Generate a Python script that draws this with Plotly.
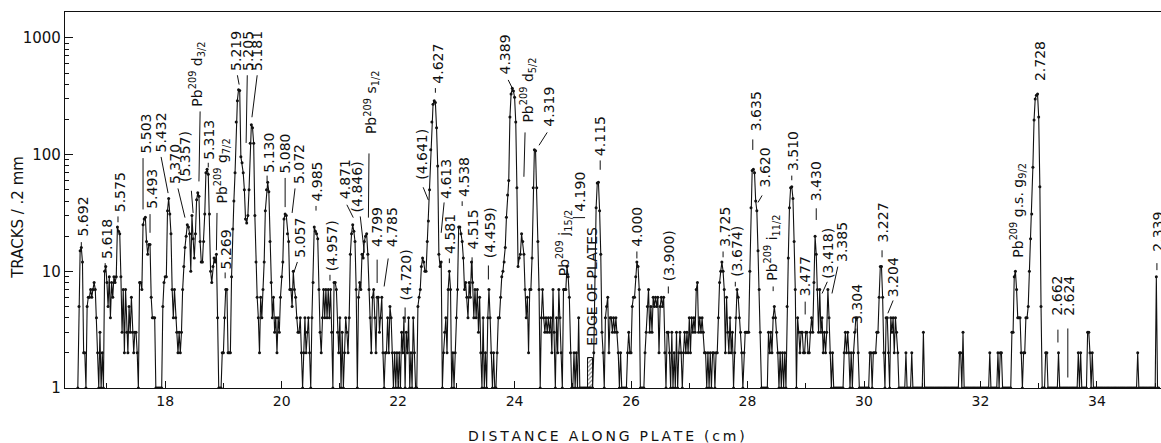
import plotly.graph_objects as go

# ---------------- data: tracks per 0.2 mm bin (bin width 0.02 cm) ----------------
BIN = 0.02
seg_16 = [1, 5, 15, 16, 12, 2, 2, 1, 5, 6, 6, 7, 6, 7, 8, 7, 4, 2, 1, 3, 1, 2, 1, 10, 11]
seg_17 = [8, 5, 9, 4, 8, 6, 9, 8, 9, 24, 22, 21, 9, 3, 7, 2, 7, 3, 2, 5,
          3, 6, 3, 2, 3, 3, 2, 1, 8, 8, 7, 25, 28, 29, 18, 14, 17, 17, 6, 4,
          4, 4, 1, 1, 1, 1, 1, 1, 5, 8]
seg_18 = [9, 9, 33, 42, 31, 21, 7, 4, 7, 4, 3, 2, 3, 2, 3, 7, 11, 16, 20, 25,
          24, 21, 10, 30, 19, 13, 21, 41, 47, 44, 18, 12, 12, 18, 31, 70, 75, 68, 31, 10,
          8, 11, 13, 12, 14, 4, 1, 1, 1, 2]
seg_19 = [2, 4, 7, 7, 2, 2, 2, 9, 23, 40, 70, 190, 290, 360, 355, 96, 85, 70, 50, 28,
          26, 30, 50, 125, 180, 170, 125, 30, 12, 6, 4, 2, 6, 4, 7, 12, 33, 50, 58, 48,
          18, 8, 4, 6, 3, 4, 2, 4, 3, 6]
seg_20 = [9, 12, 28, 31, 30, 21, 18, 7, 7, 5, 10, 7, 6, 4, 3, 3, 4, 2, 1, 2,
          4, 2, 3, 4, 2, 1, 4, 8, 24, 22, 21, 19, 7, 3, 2, 4, 7, 4, 7, 4,
          7, 4, 7, 3, 1, 8, 8, 7, 3, 2]
seg_21 = [4, 1, 3, 1, 2, 4, 3, 2, 4, 14, 21, 25, 22, 18, 7, 1, 6, 8, 7, 14,
          13, 18, 20, 21, 14, 7, 4, 2, 6, 7, 4, 2, 6, 6, 3, 4, 6, 2, 1, 2,
          2, 4, 2, 5, 4, 2, 1, 2, 1, 2]
seg_22 = [1, 2, 1, 3, 2, 4, 1, 3, 2, 4, 1, 2, 1, 4, 2, 1, 1, 5, 6, 7,
          11, 13, 12, 10, 10, 18, 27, 50, 110, 190, 270, 290, 280, 170, 80, 14, 11, 12, 1, 2,
          3, 4, 2, 7, 10, 7, 1, 2, 1, 2]
seg_23 = [4, 7, 24, 24, 21, 18, 13, 7, 8, 6, 4, 8, 6, 12, 8, 4, 7, 4, 7, 3,
          6, 2, 1, 4, 1, 2, 1, 4, 7, 4, 2, 1, 2, 1, 1, 2, 4, 4, 6, 9,
          10, 12, 16, 29, 45, 60, 210, 330, 370, 350]
seg_24 = [310, 190, 52, 11, 13, 14, 21, 18, 14, 7, 4, 6, 2, 7, 7, 13, 52, 110, 108, 52,
          18, 7, 1, 4, 7, 4, 3, 4, 3, 4, 3, 4, 2, 7, 3, 1, 4, 2, 7, 4,
          2, 1, 7, 7, 7, 11, 9, 6, 2, 1]
seg_25 = [1, 2, 1, 2, 1, 4, 1, 1, 1, 1, 1, 1, 1, 1, 1, 1, 1, 1, 2, 9,
          35, 57, 58, 33, 14, 3, 2, 1, 4, 5, 6, 2, 4, 4, 3, 4, 3, 4, 3, 2,
          1, 2, 1, 1, 1, 1, 1, 2, 3, 2]
seg_26 = [2, 5, 6, 6, 9, 12, 11, 7, 1, 1, 1, 1, 2, 3, 5, 7, 3, 5, 3, 6,
          5, 6, 5, 6, 2, 5, 6, 5, 6, 2, 1, 3, 3, 2, 1, 3, 1, 2, 1, 3,
          1, 2, 3, 2, 1, 2, 3, 2, 3, 2]
seg_27 = [4, 2, 4, 3, 4, 3, 7, 8, 3, 4, 3, 4, 3, 2, 2, 1, 2, 1, 2, 1,
          2, 2, 1, 2, 2, 4, 8, 10, 12, 10, 7, 2, 6, 3, 2, 4, 2, 3, 1, 2,
          4, 7, 6, 4, 3, 2, 1, 2, 3, 3]
seg_28 = [3, 3, 10, 35, 73, 75, 70, 40, 33, 15, 7, 3, 1, 1, 1, 1, 1, 1, 3, 2,
          3, 2, 4, 5, 4, 3, 2, 1, 2, 1, 2, 1, 2, 1, 5, 13, 35, 52, 53, 42,
          18, 7, 1, 4, 3, 2, 3, 3, 2, 2]
seg_29 = [3, 3, 2, 2, 3, 4, 3, 8, 20, 14, 7, 3, 7, 3, 4, 2, 3, 2, 3, 7,
          4, 2, 1, 2, 1, 1, 1, 1, 1, 1, 1, 1, 1, 2, 3, 2, 3, 2, 1, 2,
          1, 2, 3, 4, 4, 2, 1, 1, 1, 1]
seg_30 = [1, 1, 1, 1, 1, 2, 2, 1, 2, 2, 2, 3, 3, 6, 11, 11, 6, 2, 1, 4,
          4, 2, 1, 4, 3, 4, 2, 4, 3, 2, 1, 1, 1, 1, 1, 1, 2, 1, 1, 1,
          1, 2, 1, 1, 1, 1, 1, 1, 1, 1]
seg_31 = [1, 3, 1, 1, 1, 1, 1, 1, 1, 1, 1, 1, 1, 1, 1, 1, 1, 1, 1, 1,
          1, 1, 1, 1, 1, 1, 1, 1, 1, 1, 1, 1, 2, 2, 1, 3, 1, 1, 1, 1,
          1, 1, 1, 1, 1, 1, 1, 1, 1, 1]
seg_32 = [1, 1, 1, 1, 1, 1, 1, 1, 2, 1, 1, 1, 1, 1, 1, 2, 1, 2, 2, 1,
          1, 1, 1, 1, 1, 1, 1, 3, 3, 9, 10, 7, 4, 4, 4, 2, 1, 2, 2, 4,
          4, 5, 10, 19, 31, 78, 198, 300, 323, 330]
seg_33 = [210, 53, 5, 1, 1, 1, 2, 2, 1, 1, 1, 1, 1, 1, 1, 1, 1, 2, 1, 1,
          1, 1, 1, 1, 1, 1, 1, 1, 1, 1, 1, 1, 1, 1, 2, 1, 2, 1, 1, 1,
          1, 1, 3, 3, 2, 1, 2, 1, 1, 1]
seg_34 = [1, 1, 1, 1, 1, 1, 1, 1, 1, 1, 1, 1, 1, 1, 1, 1, 1, 1, 1, 1,
          1, 1, 1, 1, 1, 1, 1, 1, 1, 1, 1, 1, 1, 1, 1, 2, 1, 1, 1, 1,
          1, 1, 1, 1, 1, 1, 1, 1, 1, 1]
seg_35 = [1, 9, 1, 1]

segment_starts = [16.5, 17, 18, 19, 20, 21, 22, 23, 24, 25, 26, 27, 28, 29, 30, 31, 32, 33, 34, 35]
segments = [seg_16, seg_17, seg_18, seg_19, seg_20, seg_21, seg_22, seg_23, seg_24, seg_25,
            seg_26, seg_27, seg_28, seg_29, seg_30, seg_31, seg_32, seg_33, seg_34, seg_35]

# edge-of-plates marker (hatched block)
edge_x = [25.30]
edge_h = [0.8]

# tick labels
x_ticks = [18, 20, 22, 24, 26, 28, 30, 32, 34]
y_ticks = [1, 10, 100, 1000]
y_ticktext = ["1", "10", "100", "1000"]

# peak labels: text, x (cm), bottom of text (log10 counts)
labels = [
    ("5.692", 16.59, 1.29), ("5.618", 16.99, 1.10), ("5.575", 17.23, 1.50),
    ("5.503", 17.67, 2.00), ("5.493", 17.78, 1.53), ("5.432", 17.93, 2.01),
    ("5.370", 18.17, 1.74), ("(5.357)", 18.34, 1.76),
    ("Pb<sup>209</sup> d<sub>3/2</sub>", 18.55, 2.40), ("5.313", 18.76, 1.95),
    ("Pb<sup>209</sup> g<sub>7/2</sub>", 18.98, 1.57), ("5.269", 19.05, 1.01),
    ("5.219", 19.22, 2.71), ("5.205", 19.41, 2.71), ("5.181", 19.58, 2.71),
    ("5.130", 19.79, 1.84), ("5.080", 20.06, 1.83), ("5.072", 20.30, 1.74),
    ("5.057", 20.32, 1.11), ("4.985", 20.61, 1.59), ("(4.957)", 20.87, 0.99),
    ("4.871", 21.09, 1.61), ("(4.846)", 21.31, 1.50),
    ("Pb<sup>209</sup> s<sub>1/2</sub>", 21.54, 2.17), ("4.799", 21.64, 1.20),
    ("4.785", 21.90, 1.20), ("(4.720)", 22.14, 0.74), ("(4.641)", 22.41, 1.78),
    ("4.627", 22.67, 2.60), ("4.613", 22.82, 1.61), ("4.581", 22.89, 1.14),
    ("4.538", 23.12, 1.63), ("4.515", 23.29, 1.18), ("(4.459)", 23.58, 1.10),
    ("4.389", 23.84, 2.68), ("Pb<sup>209</sup> d<sub>5/2</sub>", 24.23, 2.27),
    ("4.319", 24.59, 2.23), ("Pb<sup>209</sup> j<sub>15/2</sub>", 24.85, 0.95),
    ("4.190", 25.12, 1.50), ("EDGE OF PLATES", 25.33, 0.35), ("4.115", 25.47, 1.98),
    ("4.000", 26.10, 1.20), ("(3.900)", 26.65, 0.91), ("3.725", 27.61, 1.20),
    ("(3.674)", 27.82, 0.94), ("3.635", 28.16, 2.19), ("3.620", 28.30, 1.71),
    ("Pb<sup>209</sup> i<sub>11/2</sub>", 28.42, 0.91), ("3.510", 28.78, 1.85),
    ("3.477", 28.99, 0.78), ("3.430", 29.19, 1.59), ("(3.418)", 29.38, 0.93),
    ("3.385", 29.62, 1.07), ("3.304", 29.88, 0.54), ("3.227", 30.33, 1.24),
    ("3.204", 30.50, 0.77), ("Pb<sup>209</sup> g.s. g<sub>9/2</sub>", 32.64, 1.11),
    ("2.728", 33.02, 2.62), ("2.662", 33.31, 0.61), ("2.624", 33.52, 0.61),
    ("2.339", 35.05, 1.16),
]

# leader lines: x0, y0, x1, y1 (cm, log10 counts)
leaders = [
    (16.56, 1.25, 16.56, 1.20), (16.97, 1.07, 16.97, 1.03), (17.19, 1.47, 17.19, 1.42),
    (17.62, 1.97, 17.62, 1.53), (17.74, 1.49, 17.74, 1.33), (17.93, 1.98, 18.05, 1.67),
    (18.22, 1.71, 18.34, 1.46), (18.45, 1.69, 18.48, 1.50), (18.60, 2.37, 18.58, 1.77),
    (18.74, 1.93, 18.74, 1.89), (18.89, 1.50, 18.88, 1.18), (19.03, 0.99, 19.03, 0.94),
    (19.24, 2.68, 19.27, 2.60), (19.41, 2.68, 19.39, 2.10), (19.58, 2.68, 19.49, 2.32),
    (19.75, 1.82, 19.75, 1.77), (20.06, 1.80, 20.06, 1.55), (20.23, 1.71, 20.18, 1.50),
    (20.27, 1.08, 20.21, 0.99), (20.59, 1.56, 20.59, 1.52), (20.83, 0.97, 20.83, 0.92),
    (21.12, 1.57, 21.23, 1.46), (21.35, 1.47, 21.42, 1.16), (21.50, 2.01, 21.49, 1.46),
    (21.64, 1.10, 21.64, 0.90), (21.83, 1.11, 21.76, 0.87), (22.12, 0.69, 22.12, 0.56),
    (22.43, 1.72, 22.52, 1.61), (22.64, 2.57, 22.64, 2.53), (22.79, 1.59, 22.74, 1.33),
    (22.88, 1.11, 22.88, 1.07), (23.10, 1.60, 23.10, 1.56), (23.27, 1.12, 23.27, 0.94),
    (23.55, 1.05, 23.55, 0.93), (23.89, 2.64, 23.96, 2.57), (24.18, 2.19, 24.16, 1.81),
    (24.56, 2.19, 24.42, 2.08), (25.00, 1.46, 25.21, 1.46), (25.47, 1.95, 25.47, 1.87),
    (26.10, 1.17, 26.10, 1.11), (26.64, 0.87, 26.64, 0.81), (27.58, 1.17, 27.58, 1.12),
    (27.79, 0.91, 27.79, 0.87), (28.09, 2.13, 28.09, 2.04), (28.25, 1.65, 28.18, 1.59),
    (28.44, 0.87, 28.44, 0.83), (28.76, 1.82, 28.76, 1.78), (28.99, 0.74, 28.99, 0.63),
    (29.18, 1.54, 29.18, 1.44), (29.37, 0.91, 29.28, 0.81), (29.55, 1.04, 29.45, 0.81),
    (29.86, 0.51, 29.86, 0.48), (30.31, 1.18, 30.31, 1.12), (30.50, 0.75, 30.41, 0.64),
    (33.33, 0.50, 33.33, 0.39), (33.50, 0.51, 33.50, 0.09), (35.03, 1.07, 35.03, 1.01),
]

# ---------------- build ----------------
xs, ys = [], []
for start, seg in zip(segment_starts, segments):
    for i, v in enumerate(seg):
        xs.append(round(start + BIN * i, 2))
        ys.append(v)

FONT = "DejaVu Sans"
INK = "#111111"

fig = go.Figure()
fig.add_trace(go.Bar(
    x=edge_x, y=edge_h, base=[1], width=[0.09],
    marker=dict(color="white", line=dict(color=INK, width=1),
                pattern=dict(shape="/", fgcolor=INK, bgcolor="white", size=3, solidity=0.4)),
    hoverinfo="skip"))
fig.add_trace(go.Scatter(
    x=xs, y=ys, mode="lines+markers",
    line=dict(color=INK, width=1.1),
    marker=dict(color=INK, size=3),
    hoverinfo="skip"))

lx, ly = [], []
for x0, y0, x1, y1 in leaders:
    lx += [x0, x1, None]
    ly += [10 ** y0, 10 ** y1, None]
fig.add_trace(go.Scatter(x=lx, y=ly, mode="lines", line=dict(color=INK, width=1),
                         hoverinfo="skip", cliponaxis=False))

annotations = []
for text, x, yb in labels:
    annotations.append(dict(
        x=x, y=yb, xref="x", yref="y", text=text, showarrow=False,
        textangle=-90, xanchor="center", yanchor="bottom", borderpad=0,
        font=dict(family=FONT, size=14, color=INK)))
annotations.append(dict(
    x=-0.043, y=0.455, xref="paper", yref="paper", text="TRACKS / .2 mm",
    showarrow=False, textangle=-90, xanchor="center", yanchor="middle",
    font=dict(family=FONT, size=15, color=INK)))
xtitle = "\u2009".join("DISTANCE ALONG PLATE (cm)")
annotations.append(dict(
    x=0.4945, y=-0.128, xref="paper", yref="paper", text=xtitle,
    showarrow=False, xanchor="center", yanchor="middle",
    font=dict(family=FONT, size=14, color=INK)))

fig.update_layout(
    width=1161, height=443,
    margin=dict(l=65, r=0, t=12, b=55),
    paper_bgcolor="white", plot_bgcolor="white",
    showlegend=False, bargap=0,
    annotations=annotations,
    xaxis=dict(range=[16.28, 35.10], showgrid=False, zeroline=False,
               showline=True, linecolor=INK, linewidth=1.3, mirror=True,
               ticks="inside", ticklen=7, tickcolor=INK,
               tickvals=x_ticks, ticktext=[str(t) for t in x_ticks],
               minor=dict(ticks="inside", ticklen=5, tickcolor=INK,
                          tickvals=[17, 19, 21, 23, 25, 27, 29, 31, 33, 35]),
               tickfont=dict(family=FONT, size=14, color=INK)),
    yaxis=dict(type="log", range=[0, 3.222], showgrid=False, zeroline=False,
               showline=True, linecolor=INK, linewidth=1.3,
               ticks="inside", ticklen=8, tickcolor=INK,
               tickvals=y_ticks, ticktext=y_ticktext,
               minor=dict(ticks="inside", ticklen=4, tickcolor=INK,
                          tickvals=[m * d for d in (1, 10, 100, 1000) for m in range(2, 10)]),
               tickfont=dict(family=FONT, size=15, color=INK)),
)

fig.write_html("out.html", config={"displayModeBar": False},
               post_script="document.body.style.margin='0';document.body.style.overflow='hidden';")
